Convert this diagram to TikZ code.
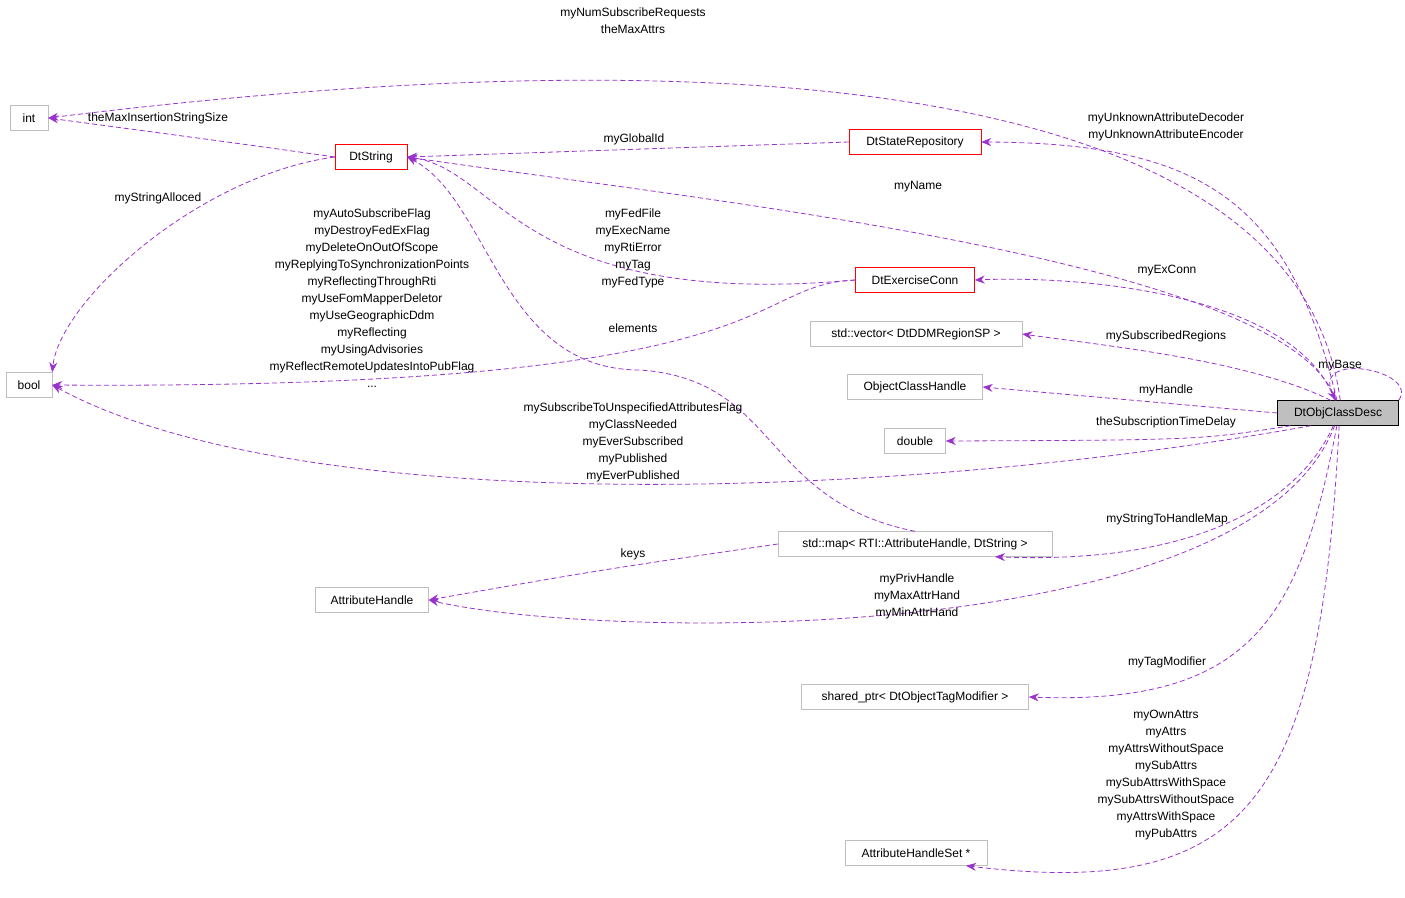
\documentclass[tikz,border=0pt]{standalone}
\usepackage{fontspec}
\setmainfont{Liberation Sans}
\usetikzlibrary{arrows.meta}
\definecolor{edgepurple}{RGB}{154, 50, 205}
\definecolor{boxgray}{RGB}{191, 191, 191}
\tikzset{
  cls/.style = {rectangle, draw=boxgray, fill=white, inner sep=0pt, minimum height=25pt, font=\fontsize{12}{15}\selectfont},
  hot/.style = {cls, draw=red},
  main/.style = {cls, draw=black, fill=boxgray},
  dep/.style = {draw=edgepurple, dashed, dash pattern=on 5pt off 3pt, -{Stealth[length=10pt,width=8pt]}, thick},
  lbl/.style = {align=center, font=\fontsize{12}{17}\selectfont, inner sep=0pt}
}
\begin{document}
\begin{tikzpicture}[x=1pt, y=-1pt]
  \useasboundingbox (0,0) rectangle (1405,897);
  % classes
  \node [cls, minimum width=38pt] (int) at (29,118) {int};
  \node [hot, minimum width=72pt] (str) at (371,157) {DtString};
  \node [hot, minimum width=132pt] (repo) at (915,142) {DtStateRepository};
  \node [cls, minimum width=46pt] (bool) at (29,385) {bool};
  \node [hot, minimum width=119pt] (conn) at (915,280) {DtExerciseConn};
  \node [cls, minimum width=212pt] (vec) at (916,334) {std::vector< DtDDMRegionSP >};
  \node [cls, minimum width=135pt] (och) at (915,387) {ObjectClassHandle};
  \node [cls, minimum width=61pt] (dbl) at (915,441) {double};
  \node [main, minimum width=121pt] (desc) at (1338,413) {DtObjClassDesc};
  \node [cls, minimum width=274pt] (map) at (915,544) {std::map< RTI::AttributeHandle, DtString >};
  \node [cls, minimum width=113pt] (ah) at (372,600) {AttributeHandle};
  \node [cls, minimum width=227pt] (sp) at (915,697) {shared\_ptr< DtObjectTagModifier >};
  \node [cls, minimum width=142pt] (ahs) at (916,853) {AttributeHandleSet *};
  % connectors
  \draw [dep] (desc.80) .. controls (1300,100) and (800,25) .. (int.east);
  \draw [dep] (str.west) .. controls (250,145) .. (int.east);
  \draw [dep] (repo.west) -- (str.east);
  \draw [dep] (desc.95) .. controls (1290,200) and (1200,143) .. (repo.east);
  \draw [dep] (desc.100) .. controls (1290,260) and (700,200) .. (str.east);
  \draw [dep] (str.west) .. controls (200,175) and (60,300) .. (bool.north east);
  \draw [dep] (conn.west) .. controls (520,310) and (500,170) .. (str.east);
  \draw [dep] (conn.west) .. controls (740,285) and (800,390) .. (bool.east);
  \draw [dep] (desc.105) .. controls (1300,300) and (1100,275) .. (conn.east);
  \draw [dep] (desc.120) .. controls (1250,360) and (1100,345) .. (vec.east);
  \draw [dep] (desc.west) -- (och.east);
  \draw [dep] (desc.195) .. controls (1200,440) .. (dbl.east);
  \draw [dep] (desc.205) .. controls (900,500) and (300,520) .. (bool.east);
  \draw [dep] (map.north) .. controls (760,500) and (780,380) .. (640,370)
    .. controls (500,370) and (490,200) .. (str.east);
  \draw [dep] (map.west) .. controls (600,570) .. (ah.east);
  \draw [dep] (desc.-110) .. controls (1300,500) and (1200,565) .. ([xshift=80pt]map.south);
  \draw [dep] (desc.-105) .. controls (1250,650) and (600,640) .. (ah.east);
  \draw [dep] (desc.-95) .. controls (1300,620) and (1250,705) .. (sp.east);
  \draw [dep] (desc.-85) .. controls (1320,800) and (1250,900) .. ([xshift=50pt]ahs.south);
  \draw [dep] (desc.north east) .. controls (1420,370) and (1310,350) .. (desc.100);
  % labels
  \node [lbl] (l1) at (633,21) {myNumSubscribeRequests\\theMaxAttrs};
  \node [lbl] (l2) at (158,118) {theMaxInsertionStringSize};
  \node [lbl] (l3) at (634,139) {myGlobalId};
  \node [lbl] (l4) at (1166,127) {myUnknownAttributeDecoder\\myUnknownAttributeEncoder};
  \node [lbl] (l5) at (918,187) {myName};
  \node [lbl] (l6) at (158,198) {myStringAlloced};
  \node [lbl] (l7) at (633,248) {myFedFile\\myExecName\\myRtiError\\myTag\\myFedType};
  \node [lbl] (l8) at (372,298) {myAutoSubscribeFlag\\myDestroyFedExFlag\\myDeleteOnOutOfScope\\myReplyingToSynchronizationPoints\\myReflectingThroughRti\\myUseFomMapperDeletor\\myUseGeographicDdm\\myReflecting\\myUsingAdvisories\\myReflectRemoteUpdatesIntoPubFlag\\...};
  \node [lbl] (l9) at (1167,271) {myExConn};
  \node [lbl] (l10) at (633,328) {elements};
  \node [lbl] (l11) at (1166,336) {mySubscribedRegions};
  \node [lbl] (l12) at (1340,366) {myBase};
  \node [lbl] (l13) at (1166,390) {myHandle};
  \node [lbl] (l14) at (1166,422) {theSubscriptionTimeDelay};
  \node [lbl] (l15) at (633,442) {mySubscribeToUnspecifiedAttributesFlag\\myClassNeeded\\myEverSubscribed\\myPublished\\myEverPublished};
  \node [lbl] (l16) at (1167,519) {myStringToHandleMap};
  \node [lbl] (l17) at (633,554) {keys};
  \node [lbl] (l18) at (917,596) {myPrivHandle\\myMaxAttrHand\\myMinAttrHand};
  \node [lbl] (l19) at (1167,662) {myTagModifier};
  \node [lbl] (l20) at (1166,775) {myOwnAttrs\\myAttrs\\myAttrsWithoutSpace\\mySubAttrs\\mySubAttrsWithSpace\\mySubAttrsWithoutSpace\\myAttrsWithSpace\\myPubAttrs};
\end{tikzpicture}
\end{document}
